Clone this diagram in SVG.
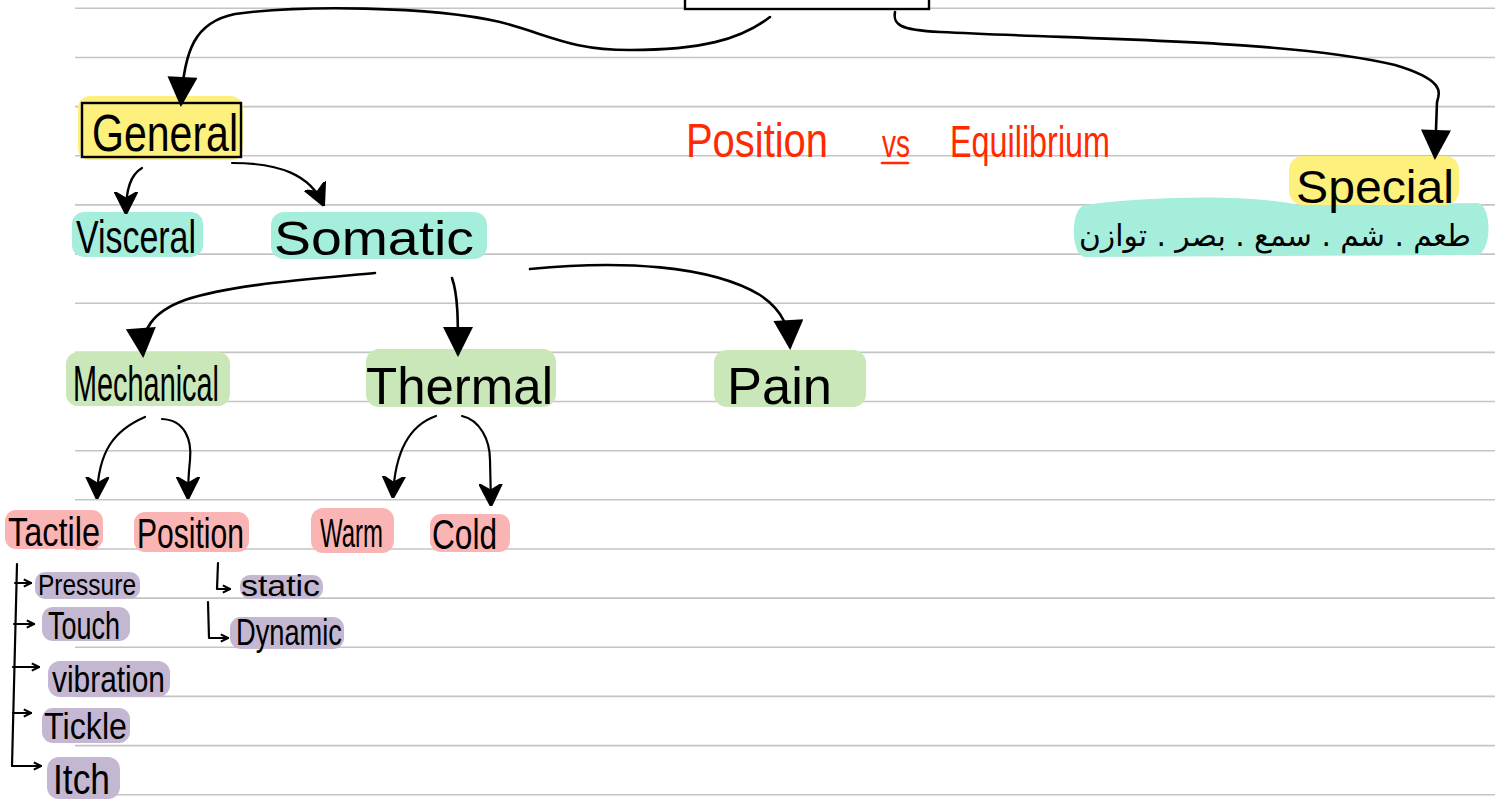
<svg xmlns="http://www.w3.org/2000/svg" width="1495" height="810" viewBox="0 0 1495 810">
<style>
.rule{stroke:#c4c4c4;stroke-width:1.6}
.t{font-family:"Liberation Sans","DejaVu Sans",sans-serif;fill:#000}
.red{font-family:"Liberation Sans",sans-serif;fill:#ff2a00}
.ar{font-family:"DejaVu Sans","Noto Sans",sans-serif;fill:#000}
.yl{fill:#fdf07c}
.tl{fill:#a6eedc}
.gr{fill:#c9e7b8}
.pk{fill:#fbb4b4}
.pu{fill:#c3b7d1}
.c{fill:none;stroke:#000;stroke-width:2.6;stroke-linecap:round;stroke-linejoin:round}
.cs{fill:none;stroke:#000;stroke-width:2.2;stroke-linecap:round;stroke-linejoin:round}
</style>
<defs>
<marker id="big" viewBox="0 0 10 10" refX="9" refY="5" markerWidth="32" markerHeight="30" markerUnits="userSpaceOnUse" orient="auto"><path d="M0,0 L10,5 L0,10 z" fill="#000"/></marker>
<marker id="mid" viewBox="0 0 10 10" refX="9" refY="5" markerWidth="22" markerHeight="24" markerUnits="userSpaceOnUse" orient="auto"><path d="M0,0 L10,5 L0,10 L3,5 z" fill="#000" stroke="#000" stroke-width="1"/></marker>
<marker id="tiny" viewBox="0 0 10 10" refX="9" refY="5" markerWidth="9" markerHeight="10" markerUnits="userSpaceOnUse" orient="auto"><path d="M1,1 L9,5 L1,9" fill="none" stroke="#000" stroke-width="2.4"/></marker>
</defs>
<rect width="1495" height="810" fill="#fff"/>
<g id="rules">
<line class="rule" x1="75" y1="8.3" x2="1495" y2="8.3"/>
<line class="rule" x1="75" y1="57.5" x2="1495" y2="57.5"/>
<line class="rule" x1="75" y1="106.6" x2="1495" y2="106.6"/>
<line class="rule" x1="75" y1="155.8" x2="1495" y2="155.8"/>
<line class="rule" x1="75" y1="204.9" x2="1495" y2="204.9"/>
<line class="rule" x1="75" y1="254.1" x2="1495" y2="254.1"/>
<line class="rule" x1="75" y1="303.2" x2="1495" y2="303.2"/>
<line class="rule" x1="75" y1="352.4" x2="1495" y2="352.4"/>
<line class="rule" x1="75" y1="401.5" x2="1495" y2="401.5"/>
<line class="rule" x1="75" y1="450.7" x2="1495" y2="450.7"/>
<line class="rule" x1="75" y1="499.8" x2="1495" y2="499.8"/>
<line class="rule" x1="75" y1="549" x2="1495" y2="549"/>
<line class="rule" x1="75" y1="598.1" x2="1495" y2="598.1"/>
<line class="rule" x1="75" y1="647.3" x2="1495" y2="647.3"/>
<line class="rule" x1="75" y1="696.4" x2="1495" y2="696.4"/>
<line class="rule" x1="75" y1="745.6" x2="1495" y2="745.6"/>
<line class="rule" x1="75" y1="794.7" x2="1495" y2="794.7"/>
</g>
<g id="root"><rect x="685" y="-20" width="244" height="29" fill="#fff" stroke="#000" stroke-width="2.4"/></g>
<g id="general"><rect class="yl" x="78" y="96" width="165" height="64" rx="12"/><rect x="82" y="103" width="159" height="54" fill="none" stroke="#000" stroke-width="2.4"/><text class="t" x="92" y="151" font-size="52" textLength="146" lengthAdjust="spacingAndGlyphs">General</text></g>
<g id="visceral"><rect class="tl" x="72" y="212" width="131" height="45" rx="12"/><text class="t" x="76" y="253" font-size="46" textLength="120" lengthAdjust="spacingAndGlyphs">Visceral</text></g>
<g id="somatic"><rect class="tl" x="271" y="212" width="216" height="47" rx="13"/><text class="t" x="274" y="255" font-size="48" textLength="200" lengthAdjust="spacingAndGlyphs">Somatic</text></g>
<g id="special-list"><path class="tl" d="M1085,205 C1150,196 1250,194 1300,205 L1478,203 C1492,206 1492,250 1478,255 L1085,257 C1070,255 1070,208 1085,205 z"/><text class="ar" x="1275" y="246" font-size="30" text-anchor="middle" direction="rtl" textLength="392" lengthAdjust="spacingAndGlyphs">طعم . شم . سمع . بصر . توازن</text></g>
<g id="special"><rect class="yl" x="1289" y="156" width="170" height="49" rx="14"/><text class="t" x="1296" y="203" font-size="46" textLength="158" lengthAdjust="spacingAndGlyphs">Special</text></g>
<g id="note"><text class="red" x="686" y="157" font-size="48" textLength="142" lengthAdjust="spacingAndGlyphs">Position</text><text class="red" x="882" y="157" font-size="38" textLength="28" lengthAdjust="spacingAndGlyphs">vs</text><line x1="882" y1="163" x2="908" y2="163" stroke="#ff2a00" stroke-width="2.6" stroke-linecap="round"/><text class="red" x="950" y="157" font-size="44" textLength="160" lengthAdjust="spacingAndGlyphs">Equilibrium</text></g>
<g id="mechanical"><rect class="gr" x="66" y="352" width="164" height="54" rx="12"/><text class="t" x="73" y="401" font-size="50" textLength="146" lengthAdjust="spacingAndGlyphs">Mechanical</text></g>
<g id="thermal"><rect class="gr" x="366" y="349" width="190" height="58" rx="13"/><text class="t" x="366" y="404" font-size="52" textLength="187" lengthAdjust="spacingAndGlyphs">Thermal</text></g>
<g id="pain"><rect class="gr" x="714" y="350" width="152" height="57" rx="13"/><text class="t" x="727" y="404" font-size="52" textLength="105" lengthAdjust="spacingAndGlyphs">Pain</text></g>
<g id="tactile"><rect class="pk" x="5" y="510" width="98" height="39" rx="11"/><text class="t" x="8" y="546" font-size="40" textLength="92" lengthAdjust="spacingAndGlyphs">Tactile</text></g>
<g id="position"><rect class="pk" x="134" y="512" width="115" height="40" rx="11"/><text class="t" x="137" y="548" font-size="42" textLength="107" lengthAdjust="spacingAndGlyphs">Position</text></g>
<g id="warm"><rect class="pk" x="311" y="508" width="83" height="45" rx="12"/><text class="t" x="320" y="547" font-size="40" textLength="63" lengthAdjust="spacingAndGlyphs">Warm</text></g>
<g id="cold"><rect class="pk" x="430" y="514" width="80" height="38" rx="11"/><text class="t" x="432" y="549" font-size="42" textLength="65" lengthAdjust="spacingAndGlyphs">Cold</text></g>
<g id="pressure"><rect class="pu" x="35" y="572" width="105" height="27" rx="10"/><text class="t" x="38" y="595" font-size="30" textLength="98" lengthAdjust="spacingAndGlyphs">Pressure</text></g>
<g id="touch"><rect class="pu" x="42" y="607" width="88" height="34" rx="11"/><text class="t" x="48" y="639" font-size="38" textLength="72" lengthAdjust="spacingAndGlyphs">Touch</text></g>
<g id="vibration"><rect class="pu" x="48" y="661" width="122" height="36" rx="12"/><text class="t" x="52" y="692" font-size="36" textLength="113" lengthAdjust="spacingAndGlyphs">vibration</text></g>
<g id="tickle"><rect class="pu" x="42" y="708" width="88" height="35" rx="11"/><text class="t" x="44" y="739" font-size="36" textLength="83" lengthAdjust="spacingAndGlyphs">Tickle</text></g>
<g id="itch"><rect class="pu" x="47" y="757" width="73" height="42" rx="12"/><text class="t" x="53" y="794" font-size="42" textLength="57" lengthAdjust="spacingAndGlyphs">Itch</text></g>
<g id="static"><rect class="pu" x="240" y="575" width="83" height="24" rx="10"/><text class="t" x="241" y="596" font-size="30" textLength="79" lengthAdjust="spacingAndGlyphs">static</text></g>
<g id="dynamic"><rect class="pu" x="230" y="617" width="114" height="32" rx="11"/><text class="t" x="236" y="645" font-size="36" textLength="106" lengthAdjust="spacingAndGlyphs">Dynamic</text></g>
<g id="connectors">
<path class="c" marker-end="url(#big)" d="M770,17 C740,40 700,50 630,50 C570,50 550,35 500,22 C430,6 300,5 235,14 C195,22 184,50 181,104"/>
<path class="c" marker-end="url(#big)" d="M895,12 C893,24 898,30 940,32 C1100,40 1290,40 1395,65 C1445,80 1440,92 1437,102 L1435,157"/>
<path class="cs" marker-end="url(#mid)" d="M142,168 C130,175 126,190 126,212"/>
<path class="cs" marker-end="url(#mid)" d="M232,163 C280,163 310,175 323,204"/>
<path class="c" marker-end="url(#big)" d="M375,273 C300,280 230,285 185,300 C152,312 141,330 143,355"/>
<path class="c" marker-end="url(#big)" d="M452,278 C458,295 458,320 458,354"/>
<path class="c" marker-end="url(#big)" d="M530,269 C620,260 710,265 760,295 C785,312 789,330 790,347"/>
<path class="cs" marker-end="url(#mid)" d="M145,417 C115,430 98,450 97,497"/>
<path class="cs" marker-end="url(#mid)" d="M162,419 C185,420 192,440 190,460 C188,480 188,490 188,497"/>
<path class="cs" marker-end="url(#mid)" d="M436,416 C410,425 395,450 393,496"/>
<path class="cs" marker-end="url(#mid)" d="M462,416 C480,420 490,440 490,460 L491,504"/>
<path class="cs" d="M17,564 L12,766"/>
<path class="cs" marker-end="url(#tiny)" d="M15,583 L31,583"/>
<path class="cs" marker-end="url(#tiny)" d="M14,624 L34,624"/>
<path class="cs" marker-end="url(#tiny)" d="M13,667 L39,667"/>
<path class="cs" marker-end="url(#tiny)" d="M13,713 L31,713"/>
<path class="cs" marker-end="url(#tiny)" d="M12,766 L41,766"/>
<path class="cs" marker-end="url(#tiny)" d="M218,563 L217,589 L230,589"/>
<path class="cs" marker-end="url(#tiny)" d="M208,602 L209,638 L228,638"/>
</g>
</svg>
